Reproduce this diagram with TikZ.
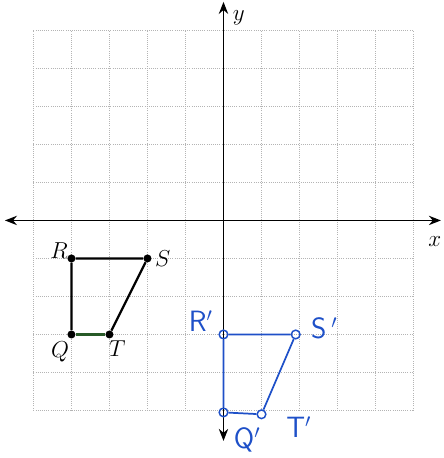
\documentclass[tikz,border=0pt]{standalone}
\usepackage{tikz}
\usetikzlibrary{arrows.meta, positioning}
\definecolor{gridgray}{RGB}{180,180,180}
\definecolor{inkblue}{RGB}{30,80,200}
\definecolor{edgegreen}{RGB}{40,90,40}

\begin{document}
\begin{tikzpicture}[
    dot/.style={circle, fill=black, inner sep=0pt, minimum size=6pt},
    inkdot/.style={circle, draw=inkblue, line width=1.1pt, inner sep=0pt, minimum size=6.5pt},
    axis/.style={line width=1.1pt, {Stealth[length=9pt,width=7pt]}-{Stealth[length=9pt,width=7pt]}},
    lbl/.style={font=\fontsize{17}{19}\selectfont},
    hand/.style={text=inkblue, font=\sffamily\fontsize{22}{24}\selectfont}
]
    \useasboundingbox (-5.88,-6.25) rectangle (5.78,5.8);

    % Grid
    \draw[gridgray, densely dotted, line width=0.6pt] (-5,-5) grid (5,5);

    % Axes
    \coordinate (xl) at (-5.75,0);
    \coordinate (xr) at (5.72,0);
    \coordinate (yt) at (0,5.75);
    \coordinate (yb) at (0,-5.8);
    \draw[axis] (xl) -- (xr);
    \draw[axis] (yb) -- (yt);
    \node[lbl] at (0.4,5.33) {$y$};
    \node[lbl] at (5.56,-0.55) {$x$};

    % Original figure QRST
    \node[dot] (R) at (-4,-1) {};
    \node[dot] (S) at (-2,-1) {};
    \node[dot] (T) at (-3,-3) {};
    \node[dot] (Q) at (-4,-3) {};
    \draw[line width=1.7pt] (Q) -- (R) -- (S) -- (T);
    \draw[line width=1.7pt, edgegreen] (T) -- (Q);
    \node[lbl, above left=-6pt and -3pt of R] {$R$};
    \node[lbl, right=-1pt of S] {$S$};
    \node[lbl, below left=0pt and -4pt of Q] {$Q$};
    \node[lbl, below right=-1pt and -6pt of T] {$T$};

    % Image Q'R'S'T' (drawn in blue ink)
    \node[inkdot] (Rp) at (0,-3) {};
    \node[inkdot] (Sp) at (1.9,-3) {};
    \node[inkdot] (Tp) at (1,-5.1) {};
    \node[inkdot] (Qp) at (0,-5.05) {};
    \draw[inkblue, line width=1.3pt] (Rp) -- (Sp) -- (Tp) -- (Qp) -- (Rp);
    \node[hand] at (-0.6,-2.65) {R$'$};
    \node[hand] at (2.65,-2.85) {S\,$'$};
    \node[hand] at (0.62,-5.78) {Q$'$};
    \node[hand] at (1.98,-5.45) {T$'$};
\end{tikzpicture}
\end{document}
